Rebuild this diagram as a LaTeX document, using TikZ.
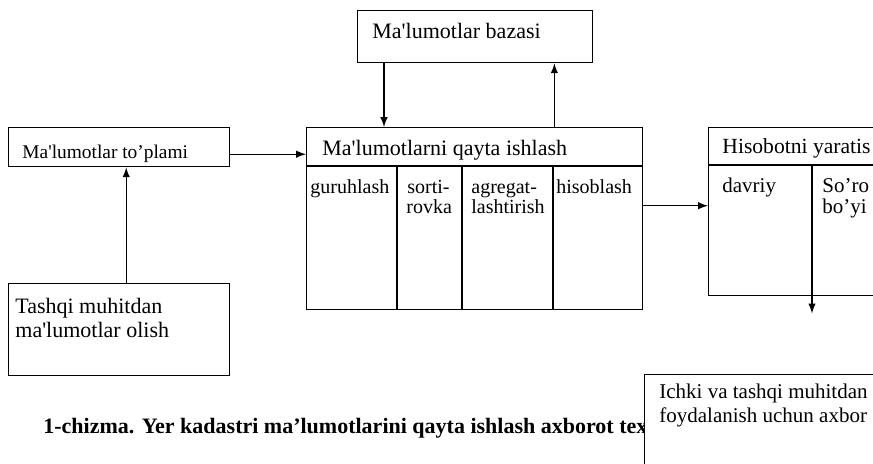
\documentclass[tikz,border=0pt]{standalone}
\usepackage{fontspec}
\setmainfont{Liberation Serif}
\usetikzlibrary{arrows,positioning}

\newcommand{\ap}{\textquotesingle}

\tikzset{
  blok/.style={draw, line width=0.7pt, rectangle, anchor=north west, inner sep=0pt},
  matn/.style={anchor=base west, inner sep=0pt, font=\fontsize{11}{12}\selectfont},
  katak/.style={anchor=base west, inner sep=0pt, font=\fontsize{10}{10}\selectfont},
  oqim/.style={-latex, line width=0.7pt},
}

\begin{document}
\begin{tikzpicture}[x=0.5pt,y=-0.5pt]

\useasboundingbox (0,0) rectangle (873,463);
\clip (0,0) rectangle (873,463);

% boxes
\node[blok, minimum width=117.5pt, minimum height=26pt] (baza) at (357,10) {};
\node[blok, minimum width=110.5pt, minimum height=19.5pt] (toplam) at (8,127) {};
\node[blok, minimum width=168pt, minimum height=91pt] (ishlash) at (306,127) {};
\node[blok, minimum width=96pt, minimum height=84pt] (hisobot) at (708,127) {};
\node[blok, minimum width=110.5pt, minimum height=46pt] (tashqi) at (8,283) {};

% table lines
\draw[line width=0.7pt] (306,166) -- (642,166);
\foreach \x in {397,462,553}
  \draw[line width=0.7pt] (\x,166) -- (\x,309);
\draw[line width=0.7pt] (708,165) -- (900,165);
\draw[line width=0.7pt] (812,165) -- (812,295);

% texts
\node[matn] (tbaza) at (372,38) {Ma\ap lumotlar bazasi};
\node[matn, font=\fontsize{9.7}{11}\selectfont] (ttoplam) at (22,158) {Ma\ap lumotlar to’plami};
\node[matn] (tishlash) at (322,155) {Ma\ap lumotlarni qayta ishlash};
\node[matn, font=\fontsize{10.8}{12}\selectfont] (thisobot) at (722,153) {Hisobotni yaratis};
\node[matn] (ttashqi1) at (15,313) {Tashqi muhitdan};
\node[matn] (ttashqi2) at (15,337) {ma\ap lumotlar olish};

\node[katak] (c1) at (310,193) {guruhlash};
\node[katak] (c2a) at (407,193) {sorti-};
\node[katak] (c2b) at (406,213) {rovka};
\node[katak] (c3a) at (471,193) {agregat-};
\node[katak] (c3b) at (471,213) {lashtirish};
\node[katak] (c4) at (556,193) {hisoblash};
\node[katak, font=\fontsize{10.5}{11}\selectfont] (d1) at (722,192) {davriy};
\node[katak, font=\fontsize{10.5}{11}\selectfont] (d2a) at (822,192) {So’ro};
\node[katak, font=\fontsize{10.5}{11}\selectfont] (d2b) at (822,213) {bo’yi};

% caption
\node[matn, font=\fontsize{11}{12}\selectfont\bfseries] (izoh) at (43,433) {1-chizma. Yer kadastri ma’lumotlarini qayta ishlash axborot tex};

% box over the caption
\node[blok, fill=white, minimum width=130pt, minimum height=60pt] (ichki) at (644,374) {};
\node[matn, font=\fontsize{10.5}{12}\selectfont] (tichki1) at (659,398) {Ichki va tashqi muhitdan};
\node[matn, font=\fontsize{10.5}{12}\selectfont] (tichki2) at (659,422) {foydalanish uchun axbor};

% connectors
\draw[oqim] ([yshift=-3.5pt]toplam.east) -- ([yshift=-3.5pt]toplam.east -| ishlash.west);

\coordinate (bz1) at ([xshift=13.5pt]baza.south west);
\draw[oqim] (bz1) -- (bz1 |- ishlash.north);
\coordinate (bz2) at ([xshift=-19.5pt]baza.south east);
\draw[oqim] (bz2 |- ishlash.north) -- (bz2);

\coordinate (ts1) at ([xshift=3.5pt]tashqi.north);
\draw[oqim] (ts1) -- (ts1 |- toplam.south);

\coordinate (is1) at ([yshift=6.5pt]ishlash.east);
\draw[oqim] (is1) -- (is1 -| hisobot.west);

\coordinate (hs1) at ([xshift=52pt]hisobot.south west);
\coordinate (hs2) at ([yshift=-8.5pt]hs1);
\draw[oqim] (hs1) -- (hs2);

\end{tikzpicture}
\end{document}
